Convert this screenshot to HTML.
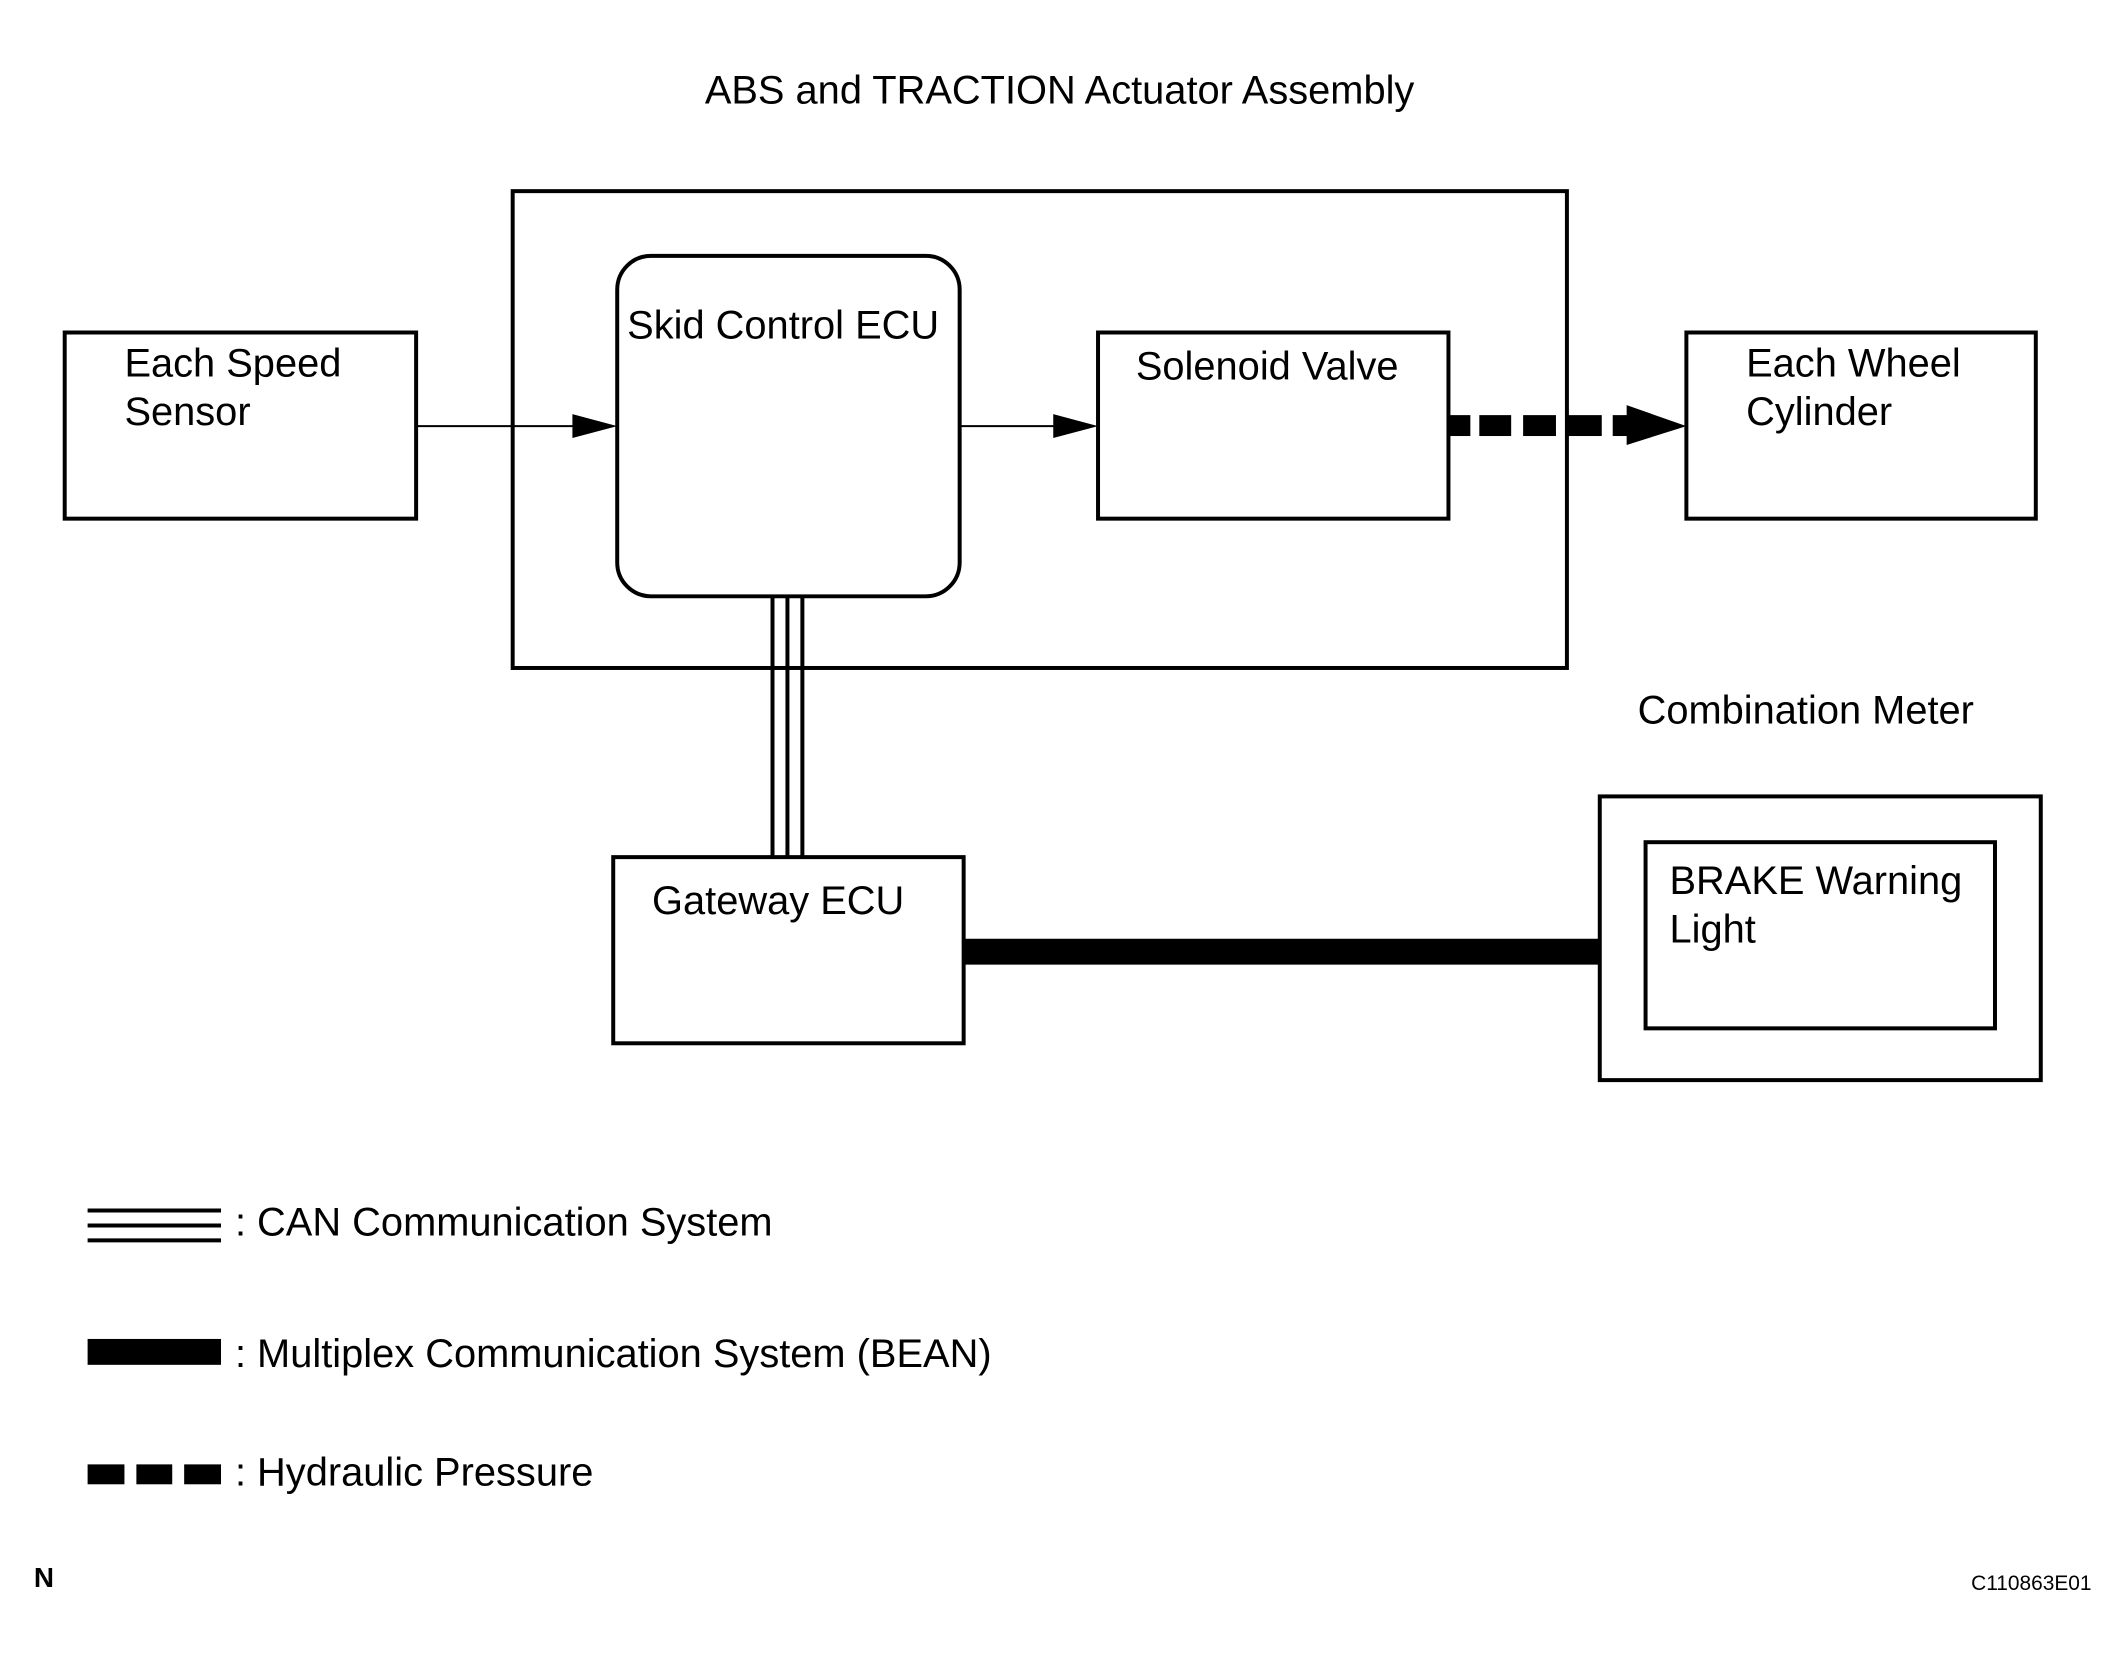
<!DOCTYPE html>
<html><head><style>html,body{margin:0;padding:0;background:#fff}svg{display:block}</style></head><body>
<svg width="2124" height="1666" viewBox="0 0 2124 1666" xmlns="http://www.w3.org/2000/svg" font-family="Liberation Sans, Arial, sans-serif" font-size="40" fill="#000">
<rect width="2124" height="1666" fill="#fff"/>
<g transform="scale(0.9955)">
<text x="708" y="104">ABS and TRACTION Actuator Assembly</text>
<g fill="none" stroke="#000" stroke-width="4">
<rect x="515" y="192" width="1059" height="479"/>
<rect x="65" y="334" width="353" height="187"/>
<rect x="620" y="257" width="344" height="342" rx="34"/>
<rect x="1103" y="334" width="352" height="187"/>
<rect x="1694" y="334" width="351" height="187"/>
<rect x="616" y="861" width="352" height="187"/>
<rect x="1607" y="800" width="443" height="285"/>
<rect x="1653" y="846" width="351" height="187"/>
</g>
<line x1="418" y1="428" x2="580" y2="428" stroke="#000" stroke-width="2"/>
<polygon points="575,416 620,428 575,440"/>
<line x1="964" y1="428" x2="1060" y2="428" stroke="#000" stroke-width="2"/>
<polygon points="1058,416 1103,428 1058,440"/>
<g>
<rect x="1455" y="417" width="22" height="21"/>
<rect x="1486" y="417" width="32" height="21"/>
<rect x="1530" y="417" width="33" height="21"/>
<rect x="1573" y="417" width="36" height="21"/>
<rect x="1620" y="417" width="16" height="21"/>
<polygon points="1634,407 1694,428 1634,447"/>
</g>
<g stroke="#000" stroke-width="4">
<line x1="776" y1="599" x2="776" y2="861"/>
<line x1="791" y1="599" x2="791" y2="861"/>
<line x1="806" y1="599" x2="806" y2="861"/>
</g>
<rect x="968" y="943" width="639" height="26"/>
<text x="125" y="378">Each Speed</text>
<text x="125" y="427">Sensor</text>
<text x="630" y="340">Skid Control ECU</text>
<text x="1141" y="381">Solenoid Valve</text>
<text x="1754" y="378">Each Wheel</text>
<text x="1754" y="427">Cylinder</text>
<text x="1645" y="727">Combination Meter</text>
<text x="655" y="918">Gateway ECU</text>
<text x="1677" y="898">BRAKE Warning</text>
<text x="1677" y="947">Light</text>
<g stroke="#000" stroke-width="4">
<line x1="88" y1="1216" x2="222" y2="1216"/>
<line x1="88" y1="1231" x2="222" y2="1231"/>
<line x1="88" y1="1246" x2="222" y2="1246"/>
</g>
<rect x="88" y="1345" width="134" height="26"/>
<rect x="88" y="1471" width="37" height="20"/>
<rect x="137" y="1471" width="36" height="20"/>
<rect x="185" y="1471" width="37" height="20"/>
<text x="236" y="1241">: CAN Communication System</text>
<text x="236" y="1373">: Multiplex Communication System (BEAN)</text>
<text x="236" y="1492">: Hydraulic Pressure</text>
<text x="34" y="1594" font-size="28" font-weight="bold">N</text>
<text x="2101" y="1597" font-size="21" text-anchor="end">C110863E01</text>
</g>
</svg>
</body></html>
